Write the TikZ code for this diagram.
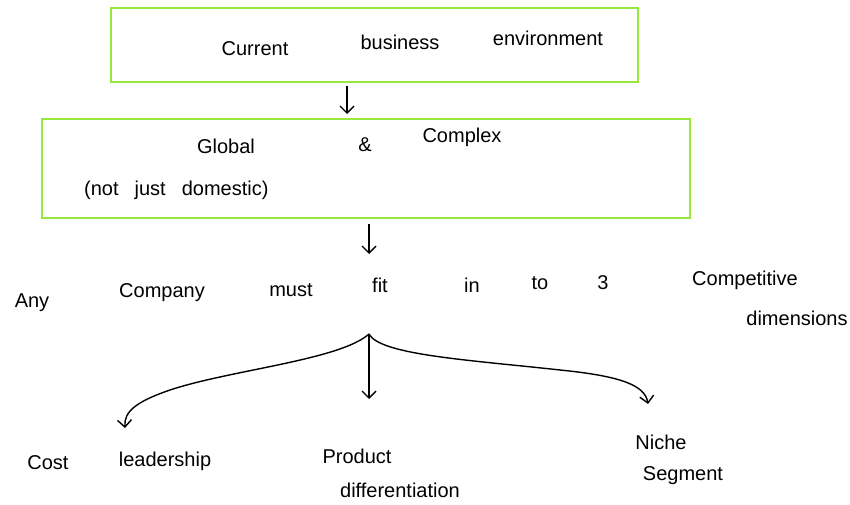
\documentclass[tikz,border=0pt]{standalone}
\usepackage{fontspec}
\setmainfont{Liberation Sans}
\usetikzlibrary{arrows.meta}
\definecolor{boxgreen}{RGB}{150,232,60}
\begin{document}
\begin{tikzpicture}[x=1pt,y=-1pt,
  frame/.style={draw=boxgreen,line width=2pt},
  word/.style={inner sep=0pt,font=\fontsize{20}{24}\selectfont},
  conn/.style={line width=1.4pt,-{Straight Barb[length=7pt,width=14pt]}}]
\useasboundingbox (0,0) rectangle (850,505);
% boxes
\draw[frame] (111,8) rectangle (638,82);
\draw[frame] (42,119) rectangle (690,218);
\coordinate (b1) at (347,86);
\coordinate (b1e) at (347,114);
\coordinate (b2) at (369,224);
\coordinate (b2e) at (369,254);
% box texts
\node[word] (t1) at (255,49) {Current};
\node[word] (t2) at (400,42) {business};
\node[word] (t3) at (548,38) {environment};
\node[word] (g1) at (226,146) {Global};
\node[word] (g2) at (365,145) {\&};
\node[word] (g3) at (462,137) {Complex};
\node[word,anchor=west] (g4) at (84,190) {(not\hspace{0.8em}just\hspace{0.8em}domestic)};
% sentence
\node[word] (s1) at (32,303) {Any};
\node[word] (s2) at (162,293) {Company};
\node[word] (s3) at (291,290) {must};
\node[word] (s4) at (380,285) {fit};
\node[word] (s5) at (472,285) {in};
\node[word] (s6) at (540,283) {to};
\node[word] (s7) at (603,283) {3};
\node[word] (s8) at (745,280) {Competitive};
\node[word] (s9) at (797,318) {dimensions};
% outcomes
\node[word] (c1) at (48,463) {Cost};
\node[word] (c2) at (165,461) {leadership};
\node[word] (p1) at (357,456) {Product};
\node[word] (p2) at (400,490) {differentiation};
\node[word] (n1) at (661,442) {Niche};
\node[word] (n2) at (683,476) {Segment};
% connectors
\draw[conn] (b1) -- (b1e);
\draw[conn] (b2) -- (b2e);
\coordinate (fork) at (369,334);
\coordinate (left) at (125,428);
\coordinate (mid) at (369,399);
\coordinate (right) at (648,404);
\draw[conn] (fork) .. controls (340,360) and (230,370) .. (170,390)
  .. controls (135,402) and (124,412) .. (left);
\draw[conn] (fork) -- (mid);
\draw[conn] (fork) .. controls (380,355) and (470,360) .. (560,370)
  .. controls (620,376) and (645,385) .. (right);
\end{tikzpicture}
\end{document}
